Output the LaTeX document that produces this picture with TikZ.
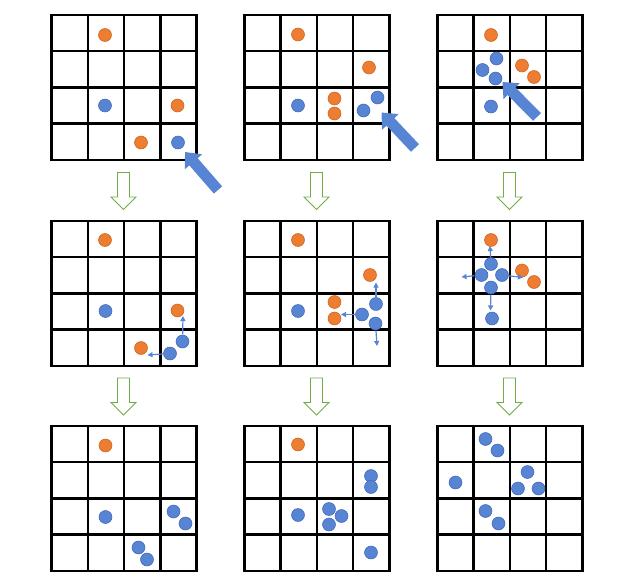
\documentclass[tikz,border=0pt]{standalone}
\usepackage{xcolor}
\usepackage{tikz}
\usetikzlibrary{arrows.meta,positioning}
\definecolor{dotorange}{RGB}{237,125,49}
\definecolor{dotorangeline}{RGB}{205,100,35}
\definecolor{dotblue}{RGB}{88,132,212}
\definecolor{dotblueline}{RGB}{65,105,185}
\definecolor{stepgreen}{RGB}{112,173,71}

\begin{document}
\begin{tikzpicture}[
  x=0.025cm, y=-0.025cm,
  gridline/.style={draw=black, line width=1.8pt},
  odot/.style={circle, fill=dotorange, draw=dotorangeline, line width=0.4pt, minimum size=9.2pt, inner sep=0pt},
  bdot/.style={circle, fill=dotblue, draw=dotblueline, line width=0.4pt, minimum size=9.2pt, inner sep=0pt},
  push/.style={draw=dotblue, line width=7.8pt, -{Triangle[length=9.2pt, width=15.6pt]}},
  spread/.style={draw=dotblue, line width=0.85pt, shorten <=0.3pt, -{Triangle[length=3.6pt, width=3.6pt]}},
  nextstep/.style={draw=stepgreen, fill=white, line width=0.7pt, line join=miter}
]
\useasboundingbox (0,0) rectangle (640,586);
% 4x4 boards
\foreach \gx in {51.7,244.5,437.5} {
  \foreach \gy in {15,221,426} {
    \foreach \k in {1,2,3} {
      \draw[gridline] (\gx+\k*36.2,\gy) -- ++(0,144.8);
      \draw[gridline] (\gx,\gy+\k*36.2) -- ++(144.8,0);
    }
    \draw[gridline] (\gx,\gy) rectangle ++(144.8,144.8);
  }
}
% green step arrows between rows
\foreach \cx in {123.5,316.5,509.5} {
  \foreach \ty in {172.5,378} {
    \draw[nextstep] (\cx-6,\ty) -- (\cx+6,\ty) -- (\cx+6,\ty+24.5) -- (\cx+12.5,\ty+24.5)
      -- (\cx,\ty+37) -- (\cx-12.5,\ty+24.5) -- (\cx-6,\ty+24.5) -- cycle;
  }
}
% top row
\foreach \x/\y [count=\i] in {105/35,177.5/105.5,141/142.5}
  \node[odot] (o1-\i) at (\x,\y) {};
\foreach \x/\y [count=\i] in {105/105.5,178/142.5}
  \node[bdot] (b1-\i) at (\x,\y) {};
\foreach \x/\y [count=\i] in {298/34.5,369/67.5,334.5/98.5,334.5/113.5}
  \node[odot] (o2-\i) at (\x,\y) {};
\foreach \x/\y [count=\i] in {298/105.5,377.5/97.5,363.5/110.5}
  \node[bdot] (b2-\i) at (\x,\y) {};
\foreach \x/\y [count=\i] in {491/35,522/65.5,534/77}
  \node[odot] (o3-\i) at (\x,\y) {};
\foreach \x/\y [count=\i] in {496.5/58.5,482.5/70,495.5/78.5,491/106.5}
  \node[bdot] (b3-\i) at (\x,\y) {};
\coordinate (tail1) at (218,190);  \coordinate (tip1) at (185,152);
\coordinate (tail2) at (415,148);  \coordinate (tip2) at (381.5,112.5);
\coordinate (tail3) at (537,117);  \coordinate (tip3) at (502.5,82);
\foreach \i in {1,2,3}
  \draw[push] (tail\i) -- (tip\i);
% middle row
\foreach \x/\y [count=\i] in {105/240,177.5/310.5,141/348}
  \node[odot] (o4-\i) at (\x,\y) {};
\foreach \x/\y [count=\i] in {105.5/311,182.5/341.5,170/353.5}
  \node[bdot] (b4-\i) at (\x,\y) {};
\foreach \x/\y [count=\i] in {298/240,370/275,334.5/302,334.5/318.5}
  \node[odot] (o5-\i) at (\x,\y) {};
\foreach \x/\y [count=\i] in {298/311,376/304,362/314.5,375.5/323.5}
  \node[bdot] (b5-\i) at (\x,\y) {};
\foreach \x/\y [count=\i] in {491/240,522/270.5,534/282}
  \node[odot] (o6-\i) at (\x,\y) {};
\foreach \x/\y [count=\i] in {491/264,481.5/275,502/275,491/287.5,492/318.5}
  \node[bdot] (b6-\i) at (\x,\y) {};
\coordinate (m4-2) at (183,316);   \coordinate (m4-3) at (147.5,355);
\coordinate (m5-2) at (376,282.5); \coordinate (m5-3) at (341,314.5);
\coordinate (m5-4) at (377,346);
\coordinate (m6-1) at (490,246);   \coordinate (m6-2) at (461.5,277);
\coordinate (m6-3) at (523,277.5); \coordinate (m6-4) at (490.5,310.5);
\foreach \s in {4-2,4-3,5-2,5-3,5-4,6-1,6-2,6-3,6-4}
  \draw[spread] (b\s) -- (m\s);
% bottom row
\node[odot] (o7-1) at (105.5,445.5) {};
\foreach \x/\y [count=\i] in {105.5/517,173.5/511.5,185.5/523.5,138.5/547.5,147/559.5}
  \node[bdot] (b7-\i) at (\x,\y) {};
\node[odot] (o8-1) at (298,444.5) {};
\foreach \x/\y [count=\i] in {371/476,371/487,298/515,329/509,341.5/516,329/524.5,371/552.5}
  \node[bdot] (b8-\i) at (\x,\y) {};
\foreach \x/\y [count=\i] in {485.5/439,497.5/450.5,455.5/482.5,527.5/472,518/488.5,538.5/488.5,485.5/511,498.5/523.5}
  \node[bdot] (b9-\i) at (\x,\y) {};
\end{tikzpicture}
\end{document}
